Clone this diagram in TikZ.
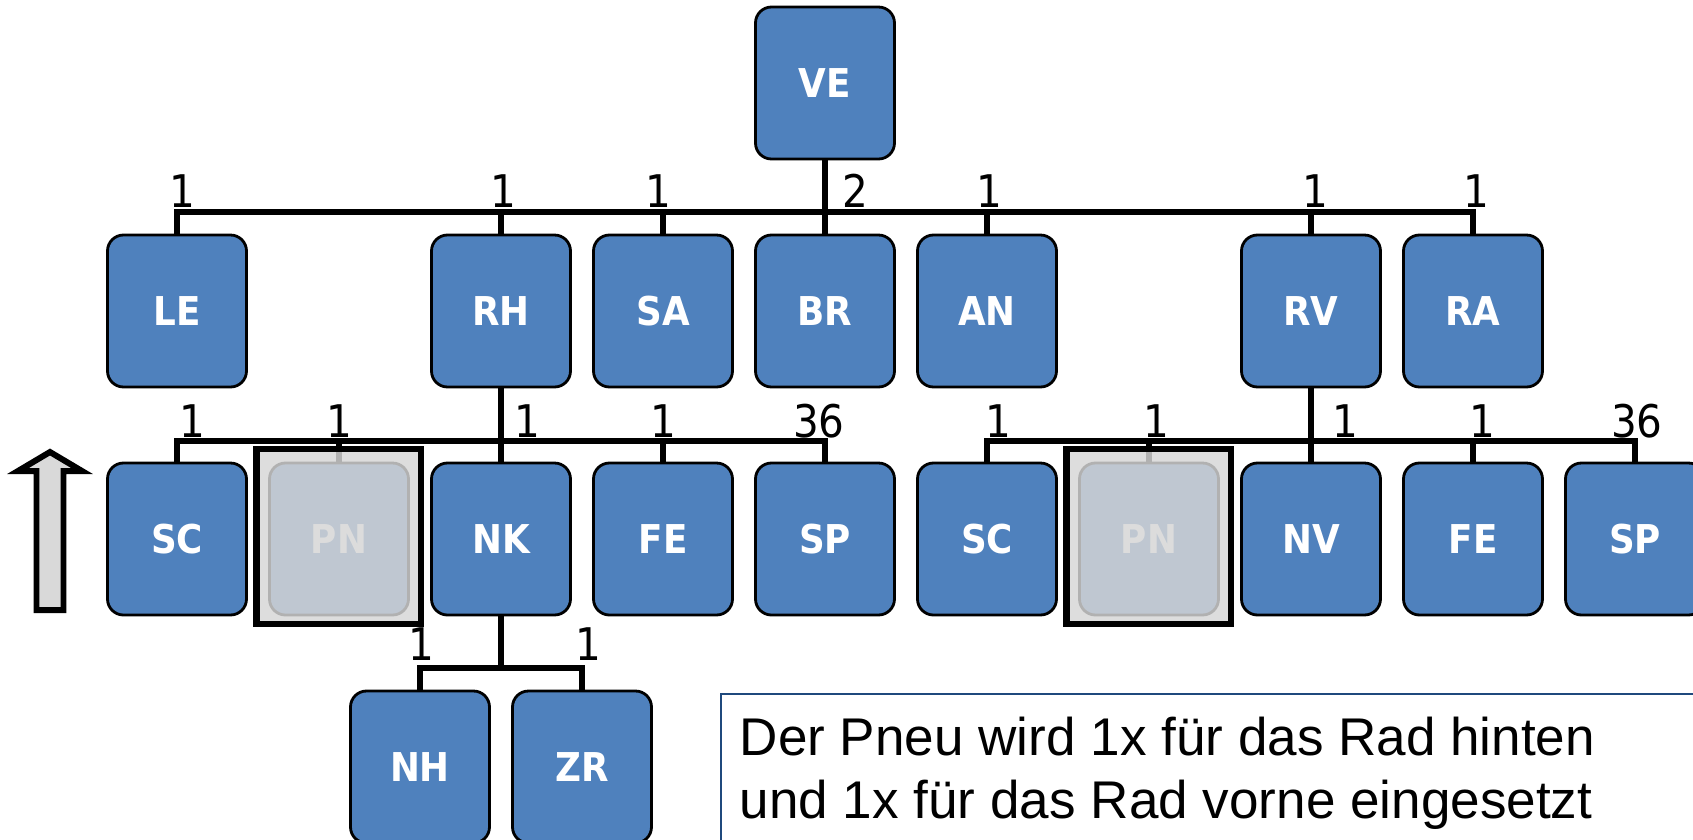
\documentclass[tikz,border=0pt]{standalone}
\usepackage{fontspec}
\setmainfont{Liberation Sans}
\newfontfamily\boxfont{DejaVu Sans Condensed}
\definecolor{boxblue}{HTML}{4F81BD}
\definecolor{pnshade}{HTML}{D6D6D6}
\definecolor{notenavy}{HTML}{1F497D}
\definecolor{arrowgray}{HTML}{D9D9D9}

\begin{document}
\begin{tikzpicture}[
    part/.style={draw, line width=0.8pt, fill=boxblue, rounded corners=0.16cm,
      minimum width=1.39cm, minimum height=1.52cm, inner sep=0pt, text=white,
      font=\boxfont\bfseries\fontsize{11.3}{13}\selectfont},
    qty/.style={anchor=base, inner sep=0pt, font=\boxfont\fontsize{12.8}{14}\selectfont},
    link/.style={line width=1.8pt},
    pnmask/.style={line width=1.9pt, fill=pnshade, fill opacity=0.83},
    note/.style={anchor=base west, inner sep=0pt, font=\fontsize{15.1}{18}\selectfont}]
  \clip (-8.25,0.83) rectangle (8.68,-7.56);
  \node[part] (ve) at (0,0) {VE};
  \node[part] (le) at (-6.48,-2.28) {LE};
  \node[part] (rh) at (-3.24,-2.28) {RH};
  \node[part] (sa) at (-1.62,-2.28) {SA};
  \node[part] (br) at (0,-2.28) {BR};
  \node[part] (an) at (1.62,-2.28) {AN};
  \node[part] (rv) at (4.86,-2.28) {RV};
  \node[part] (ra) at (6.48,-2.28) {RA};
  \node[part] (scl) at (-6.48,-4.56) {SC};
  \node[part] (pnl) at (-4.86,-4.56) {PN};
  \node[part] (nk) at (-3.24,-4.56) {NK};
  \node[part] (fel) at (-1.62,-4.56) {FE};
  \node[part] (spl) at (0,-4.56) {SP};
  \node[part] (scr) at (1.62,-4.56) {SC};
  \node[part] (pnr) at (3.24,-4.56) {PN};
  \node[part] (nv) at (4.86,-4.56) {NV};
  \node[part] (fer) at (6.48,-4.56) {FE};
  \node[part] (spr) at (8.10,-4.56) {SP};
  \node[part] (nh) at (-4.05,-6.84) {NH};
  \node[part] (zr) at (-2.43,-6.84) {ZR};
  \coordinate (bus1) at (0,-1.29);
  \coordinate (bus2) at (0,-3.58);
  \coordinate (bus3) at (0,-5.85);
  \foreach \c in {le,rh,sa,br,an,rv,ra}
    \draw[link] (ve.south) -- (ve.south |- bus1) -| (\c.north);
  \foreach \c in {scl,pnl,nk,fel,spl}
    \draw[link] (rh.south) -- (rh.south |- bus2) -| (\c.north);
  \foreach \c in {scr,pnr,nv,fer,spr}
    \draw[link] (rv.south) -- (rv.south |- bus2) -| (\c.north);
  \foreach \c in {nh,zr}
    \draw[link] (nk.south) -- (nk.south |- bus3) -| (\c.north);
  \node[qty] (q-le) at (-6.43,-1.24) {1};
  \node[qty] (q-rh) at (-3.22,-1.24) {1};
  \node[qty] (q-sa) at (-1.67,-1.24) {1};
  \node[qty] (q-br) at (0.30,-1.24) {2};
  \node[qty] (q-an) at (1.64,-1.24) {1};
  \node[qty] (q-rv) at (4.90,-1.24) {1};
  \node[qty] (q-ra) at (6.51,-1.24) {1};
  \node[qty] (q-scl) at (-6.33,-3.54) {1};
  \node[qty] (q-pnl) at (-4.86,-3.54) {1};
  \node[qty] (q-nk) at (-2.98,-3.54) {1};
  \node[qty] (q-fel) at (-1.62,-3.54) {1};
  \node[qty] (q-spl) at (-0.06,-3.54) {36};
  \node[qty] (q-scr) at (1.73,-3.54) {1};
  \node[qty] (q-pnr) at (3.31,-3.54) {1};
  \node[qty] (q-nv) at (5.20,-3.54) {1};
  \node[qty] (q-fer) at (6.57,-3.54) {1};
  \node[qty] (q-spr) at (8.12,-3.54) {36};
  \node[qty] (q-nh) at (-4.04,-5.77) {1};
  \node[qty] (q-zr) at (-2.37,-5.77) {1};
  \foreach \p in {pnl,pnr}
    \draw[pnmask] ([xshift=-0.115cm,yshift=0.125cm]\p.north west)
      rectangle ([xshift=0.11cm,yshift=-0.075cm]\p.south east);
  \draw[line width=1.7pt, fill=arrowgray] (-7.885,-5.27) -- (-7.885,-3.88)
    -- (-8.07,-3.88) -- (-7.75,-3.69) -- (-7.43,-3.88) -- (-7.615,-3.88)
    -- (-7.615,-5.27) -- cycle;
  \draw[notenavy, line width=0.8pt] (-1.04,-6.11) rectangle (9,-8);
  \node[note] (note1) at (-0.86,-6.72) {Der Pneu wird 1x für das Rad hinten};
  \node[note] (note2) at (-0.86,-7.35) {und 1x für das Rad vorne eingesetzt};
\end{tikzpicture}
\end{document}
